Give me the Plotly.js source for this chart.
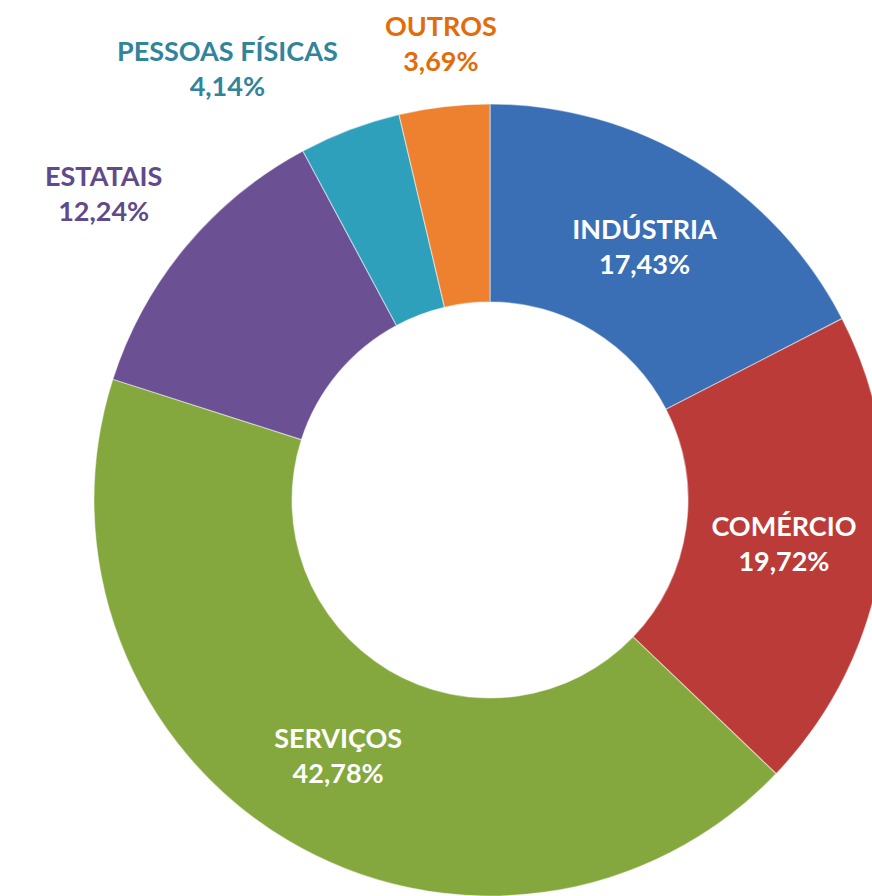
<!DOCTYPE html>
<html>
<head>
<meta charset="utf-8">
<script src="https://cdn.plot.ly/plotly-3.0.1.min.js"></script>
<style>
html, body { margin: 0; padding: 0; overflow: hidden; background: #ffffff; width: 872px; height: 896px; }
#chart { width: 980px; height: 896px; }
</style>
</head>
<body>
<div id="chart"></div>
<script>
const categories = ['INDÚSTRIA', 'COMÉRCIO', 'SERVIÇOS', 'ESTATAIS', 'PESSOAS FÍSICAS', 'OUTROS'];
const shares = [17.43, 19.72, 42.78, 12.24, 4.14, 3.69];
const sliceColors = ['#3a6fb5', '#bb3b38', '#84a83d', '#6b5193', '#2fa0bb', '#ee8130'];
const labelColors = ['#ffffff', '#ffffff', '#ffffff', '#5f4a8b', '#31849b', '#e36c09'];
const labelInside = [true, true, true, false, false, false];

const W = 980, H = 896;
const domX = [0.0959, 0.9041], domY = [0, 0.884];
const FONT = 'Lato, sans-serif';
const FS = 27;

function fmt(v) { return v.toFixed(2).replace('.', ',') + '%'; }

// Outside labels placed from each slice's mid-angle (derived from shares)
const total = shares.reduce((a, b) => a + b, 0);
const cx = (domX[0] + domX[1]) / 2 * W;
const cy = (1 - (domY[0] + domY[1]) / 2) * H;
const R = Math.min(W * (domX[1] - domX[0]), H * (domY[1] - domY[0])) / 2;
const labelRadius = 1.07 * R;
const annotations = [];
let cum = 0;
shares.forEach((v, i) => {
  const mid = (cum + v / 2) / total * 2 * Math.PI;
  cum += v;
  if (labelInside[i]) return;
  const s = Math.sin(mid), c = Math.cos(mid);
  const px = cx + labelRadius * s;
  const py = cy - labelRadius * c;
  annotations.push({
    xref: 'paper', yref: 'paper',
    x: px / W, y: 1 - py / H,
    xanchor: Math.abs(s) < 0.2 ? 'center' : (s < 0 ? 'right' : 'left'),
    yanchor: c > 0.3 ? 'bottom' : (c < -0.3 ? 'top' : 'middle'),
    align: 'center',
    showarrow: false,
    text: categories[i] + '<br>' + fmt(v),
    font: { family: FONT, size: FS, color: labelColors[i], weight: 'bold' }
  });
});

const trace = {
  type: 'pie',
  labels: categories,
  values: shares,
  sort: false,
  direction: 'clockwise',
  rotation: 0,
  hole: 0.5,
  domain: { x: domX, y: domY },
  marker: { colors: sliceColors, line: { color: 'rgba(255,255,255,0.45)', width: 1.2 } },
  texttemplate: '%{label}<br>%{value:.2f}%',
  textposition: labelInside.map(b => b ? 'inside' : 'none'),
  insidetextorientation: 'horizontal',
  insidetextfont: { family: FONT, size: FS, color: '#ffffff', weight: 'bold' },
  automargin: false,
  showlegend: false,
  hoverinfo: 'none'
};

Plotly.newPlot('chart', [trace], {
  width: W,
  height: H,
  margin: { l: 0, r: 0, t: 0, b: 0 },
  separators: ',.',
  paper_bgcolor: '#ffffff',
  showlegend: false,
  annotations: annotations
}, { staticPlot: true });
</script>
</body>
</html>
